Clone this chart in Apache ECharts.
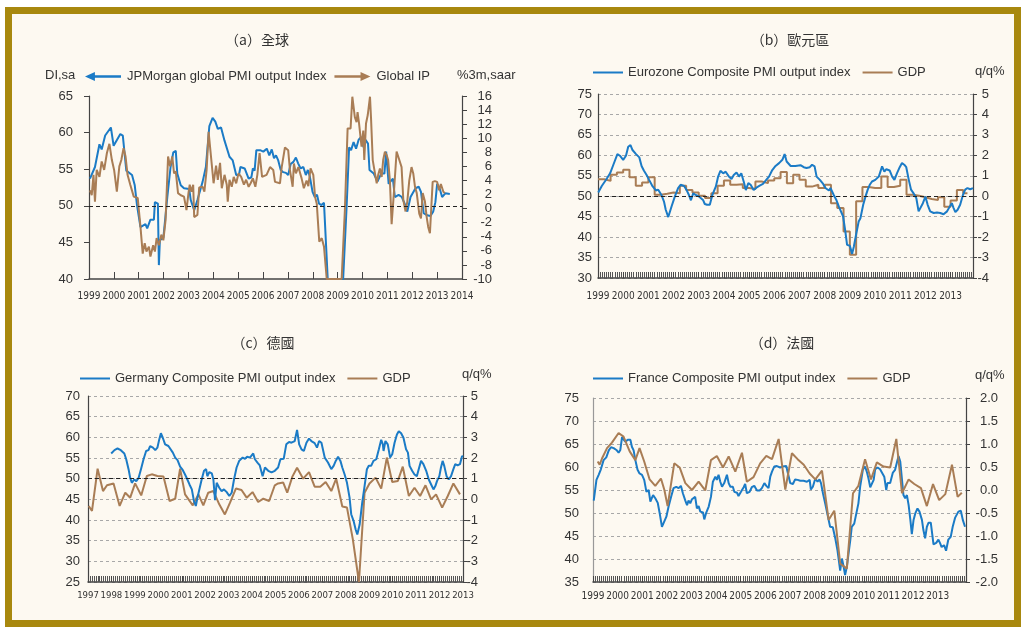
<!DOCTYPE html>
<html lang="zh-Hant">
<head>
    <meta charset="UTF-8">
    <title>PMI vs output</title>
    <script src="https://cdn.jsdelivr.net/npm/echarts@6/dist/echarts.min.js"></script>
    <style>
        body {
            margin: 0;
            padding: 0;
            background: #fff;
            overflow: hidden;
        }
        #frame {
            position: absolute;
            left: 5px;
            top: 7px;
            width: 1002px;
            height: 606px;
            border: 7px solid #a8880e;
            background: #fdf9f1;
        }
        #chart {
            position: absolute;
            left: 0;
            top: 0;
            width: 1021px;
            height: 627px;
        }
    </style>
</head>
<body>
<div id="frame"></div>
<div id="chart"></div>
</body>
<script>
    // (a) global: [year, value]
    const globalPmi = [[1999.04,53.7],[1999.24,55.3],[1999.42,58.4],[1999.51,57.7],[1999.65,59.6],[1999.88,60.7],[1999.99,58.2],[2000.26,59.8],[2000.36,59.6],[2000.5,54.8],[2000.73,54.2],[2000.84,52.8],[2000.93,50.1],[2001.07,47.1],[2001.27,47.5],[2001.34,46.9],[2001.47,48.1],[2001.61,48.1],[2001.65,50.5],[2001.77,50.3],[2001.81,41.9],[2001.85,45.3],[2001.99,45.6],[2002.15,51.2],[2002.28,55.3],[2002.39,57.3],[2002.49,57.5],[2002.55,54.4],[2002.69,52.8],[2002.82,52.4],[2003.03,52.3],[2003.09,50.8],[2003.23,49.4],[2003.36,50.8],[2003.57,53.3],[2003.7,55.3],[2003.84,60.9],[2003.97,62.0],[2004.08,61.5],[2004.18,60.5],[2004.31,60.7],[2004.45,58.9],[2004.51,58.7],[2004.65,56.7],[2004.78,56.2],[2004.92,54.2],[2005.03,54.2],[2005.09,55.3],[2005.26,55.1],[2005.42,53.7],[2005.53,53.9],[2005.59,55.1],[2005.66,54.8],[2005.73,57.6],[2005.88,57.6],[2006.01,57.4],[2006.15,57.8],[2006.25,56.9],[2006.35,57.7],[2006.44,56.5],[2006.52,56.9],[2006.61,56.2],[2006.71,54.9],[2006.81,54.6],[2006.92,54.5],[2007.01,54.2],[2007.11,55.7],[2007.22,56.0],[2007.32,56.6],[2007.41,55.8],[2007.51,55.1],[2007.62,55.3],[2007.72,54.2],[2007.8,54.9],[2007.88,54.0],[2007.99,51.9],[2008.08,51.2],[2008.17,51.5],[2008.25,50.3],[2008.35,50.1],[2008.45,50.4],[2008.6,40.0],[2009.22,40.0],[2009.36,49.9],[2009.46,58.0],[2009.54,57.6],[2009.64,58.7],[2009.74,57.8],[2009.84,59.0],[2009.94,59.4],[2010.04,58.0],[2010.12,59.0],[2010.22,58.5],[2010.28,54.9],[2010.45,54.4],[2010.6,53.3],[2010.75,54.4],[2010.88,54.4],[2010.95,57.4],[2011.02,57.4],[2011.05,53.0],[2011.22,53.7],[2011.3,51.2],[2011.45,51.5],[2011.58,51.2],[2011.72,50.1],[2011.8,49.2],[2011.93,51.2],[2012.13,52.4],[2012.26,52.6],[2012.35,51.9],[2012.46,49.0],[2012.6,48.7],[2012.73,48.6],[2012.84,49.2],[2012.93,50.5],[2013.0,53.0],[2013.1,52.4],[2013.2,51.2],[2013.33,51.7],[2013.4,51.5],[2013.51,51.6]];
    const globalIp = [[1999.04,2.6],[1999.11,1.9],[1999.18,4.8],[1999.24,1.0],[1999.31,5.5],[1999.42,4.5],[1999.51,6.7],[1999.61,5.5],[1999.72,7.9],[1999.82,9.2],[1999.92,6.9],[2000.01,5.5],[2000.12,2.4],[2000.22,6.0],[2000.3,6.9],[2000.39,8.6],[2000.47,7.4],[2000.55,4.8],[2000.66,3.4],[2000.8,1.7],[2000.96,1.5],[2001.07,-2.6],[2001.16,-6.4],[2001.24,-4.9],[2001.31,-6.1],[2001.41,-5.4],[2001.47,-6.8],[2001.58,-5.2],[2001.65,-6.1],[2001.72,-4.2],[2001.81,-5.2],[2001.91,-3.7],[2001.99,-4.5],[2002.08,-1.6],[2002.18,7.4],[2002.26,6.0],[2002.35,7.4],[2002.42,5.0],[2002.49,5.3],[2002.58,2.2],[2002.69,1.9],[2002.82,1.7],[2002.92,-0.2],[2003.0,2.2],[2003.05,3.4],[2003.12,2.4],[2003.19,3.4],[2003.23,-1.2],[2003.36,-0.9],[2003.43,3.0],[2003.57,3.1],[2003.64,2.4],[2003.73,5.5],[2003.81,10.9],[2004.01,3.6],[2004.11,6.1],[2004.18,4.1],[2004.27,6.5],[2004.34,2.9],[2004.45,4.8],[2004.54,3.4],[2004.58,1.0],[2004.65,4.1],[2004.74,3.1],[2004.82,4.5],[2004.92,3.6],[2005.01,5.0],[2005.12,4.5],[2005.23,3.4],[2005.32,4.1],[2005.42,3.1],[2005.5,3.6],[2005.59,4.3],[2005.69,3.1],[2005.77,4.8],[2005.86,7.9],[2005.96,4.5],[2006.01,4.3],[2006.14,4.8],[2006.28,5.9],[2006.41,5.5],[2006.48,3.8],[2006.68,3.6],[2006.75,5.9],[2006.88,8.7],[2007.01,8.3],[2007.08,5.5],[2007.19,3.1],[2007.24,6.4],[2007.32,5.0],[2007.42,5.9],[2007.55,4.3],[2007.64,2.9],[2007.75,4.0],[2007.82,3.2],[2007.91,5.7],[2008.02,4.8],[2008.09,1.7],[2008.16,0.7],[2008.26,-4.7],[2008.36,-4.2],[2008.45,-5.4],[2008.56,-10],[2009.16,-10],[2009.29,-0.2],[2009.4,11.4],[2009.52,11.4],[2009.59,15.9],[2009.69,13.0],[2009.76,12.3],[2009.8,13.7],[2009.86,12.1],[2009.96,8.8],[2010.03,11.1],[2010.07,6.9],[2010.14,12.1],[2010.21,13.3],[2010.3,15.9],[2010.34,13.0],[2010.41,6.9],[2010.5,5.0],[2010.57,3.6],[2010.63,4.8],[2010.7,5.7],[2010.77,4.5],[2010.83,6.9],[2010.9,8.1],[2010.97,7.6],[2011.03,6.9],[2011.1,4.0],[2011.17,-2.2],[2011.26,2.2],[2011.37,8.1],[2011.48,6.9],[2011.57,5.9],[2011.64,1.2],[2011.73,-0.4],[2011.8,1.0],[2011.88,4.0],[2011.97,5.9],[2012.04,5.0],[2012.11,3.1],[2012.18,2.2],[2012.28,-0.7],[2012.35,-1.4],[2012.42,2.2],[2012.51,1.0],[2012.58,-1.2],[2012.64,-2.6],[2012.71,-3.5],[2012.82,3.8],[2012.91,3.9],[2013.0,3.8],[2013.08,2.6],[2013.15,3.5],[2013.25,2.4],[2013.31,2.2]];

    // (b) eurozone
    const euroPmi = [[1999.01,50.9],[1999.15,52.5],[1999.34,54.2],[1999.48,55.6],[1999.61,57.7],[1999.77,60.3],[1999.87,59.9],[2000.0,58.9],[2000.11,59.9],[2000.2,62.1],[2000.29,62.5],[2000.37,61.3],[2000.51,60.3],[2000.64,59.5],[2000.73,57.4],[2000.82,56.3],[2000.93,55.2],[2001.03,54.0],[2001.17,52.4],[2001.3,51.4],[2001.39,51.6],[2001.52,50.3],[2001.62,48.7],[2001.69,46.7],[2001.79,44.9],[2001.92,47.5],[2002.05,49.9],[2002.18,52.0],[2002.28,52.8],[2002.42,52.5],[2002.51,51.6],[2002.61,50.3],[2002.69,49.0],[2002.78,50.7],[2002.88,50.3],[2003.02,49.9],[2003.17,49.1],[2003.24,48.1],[2003.33,47.9],[2003.44,47.9],[2003.54,50.3],[2003.68,52.4],[2003.77,54.8],[2003.86,56.2],[2003.97,55.6],[2004.07,56.0],[2004.2,54.8],[2004.3,54.2],[2004.39,55.2],[2004.5,55.8],[2004.6,54.8],[2004.69,55.6],[2004.79,53.5],[2004.87,51.5],[2004.97,53.2],[2005.06,52.8],[2005.18,51.5],[2005.29,52.1],[2005.42,52.6],[2005.55,53.0],[2005.68,54.0],[2005.79,54.8],[2005.92,56.4],[2006.05,57.4],[2006.19,58.1],[2006.32,58.9],[2006.41,60.3],[2006.49,58.5],[2006.65,57.4],[2006.84,57.4],[2007.04,57.6],[2007.17,57.1],[2007.28,56.9],[2007.41,57.1],[2007.5,57.7],[2007.6,57.3],[2007.68,54.8],[2007.81,54.0],[2007.94,53.0],[2008.03,52.0],[2008.1,52.4],[2008.17,51.4],[2008.23,52.0],[2008.36,50.3],[2008.47,49.0],[2008.56,47.5],[2008.63,47.9],[2008.73,45.1],[2008.83,41.0],[2008.89,38.1],[2009.0,37.9],[2009.09,35.9],[2009.16,37.7],[2009.26,41.0],[2009.35,43.8],[2009.42,44.6],[2009.53,47.9],[2009.62,49.9],[2009.71,51.6],[2009.79,52.8],[2009.88,53.6],[2010.01,54.0],[2010.15,54.8],[2010.28,57.3],[2010.37,56.0],[2010.45,56.6],[2010.58,56.3],[2010.68,54.8],[2010.77,54.0],[2010.87,55.6],[2010.98,57.1],[2011.07,58.1],[2011.16,57.7],[2011.24,57.1],[2011.34,54.0],[2011.43,51.6],[2011.53,50.7],[2011.64,49.5],[2011.73,46.3],[2011.8,46.5],[2011.9,48.3],[2012.0,49.9],[2012.09,47.9],[2012.19,46.3],[2012.33,45.9],[2012.46,46.0],[2012.59,45.9],[2012.72,45.6],[2012.86,46.3],[2012.99,47.7],[2013.05,48.3],[2013.12,47.1],[2013.19,46.1],[2013.28,46.7],[2013.38,47.9],[2013.49,50.3],[2013.58,51.6],[2013.67,52.0],[2013.78,51.7],[2013.89,52.0]];
    const euroGdp = [[1999.0,0.83],[1999.25,0.75],[1999.5,1.05],[1999.75,1.16],[2000.0,1.29],[2000.25,0.93],[2000.5,0.51],[2000.75,0.67],[2001.0,0.93],[2001.25,0.07],[2001.5,0.12],[2001.75,0.18],[2002.0,0.15],[2002.25,0.51],[2002.5,0.31],[2002.75,0.18],[2003.0,0.02],[2003.25,-0.09],[2003.5,0.15],[2003.75,0.51],[2004.0,0.77],[2004.25,0.56],[2004.5,0.59],[2004.75,0.40],[2005.0,0.35],[2005.25,0.72],[2005.5,0.64],[2005.75,0.77],[2006.0,0.88],[2006.25,1.18],[2006.5,0.64],[2006.75,1.05],[2007.0,0.80],[2007.25,0.47],[2007.5,0.56],[2007.75,0.40],[2008.0,0.56],[2008.25,-0.34],[2008.5,-0.58],[2008.75,-1.72],[2009.0,-2.86],[2009.25,-0.25],[2009.5,0.45],[2009.75,0.40],[2010.0,0.40],[2010.25,0.97],[2010.5,0.45],[2010.75,0.51],[2011.0,0.80],[2011.25,0.07],[2011.5,0.02],[2011.75,-0.05],[2012.0,-0.14],[2012.25,-0.18],[2012.5,-0.05],[2012.75,-0.51],[2013.0,-0.21],[2013.25,0.31],[2013.5,0.15],[2013.67,0.15]];

    // (c) germany
    const gerPmi = [[1997.99,56.1],[1998.13,56.9],[1998.26,57.3],[1998.4,56.9],[1998.55,56.1],[1998.63,54.7],[1998.73,52.3],[1998.8,50.2],[1998.87,49.0],[1998.97,49.8],[1999.06,49.4],[1999.16,50.2],[1999.26,52.3],[1999.37,54.7],[1999.48,56.7],[1999.58,56.9],[1999.65,57.9],[1999.77,57.5],[1999.87,56.9],[1999.96,57.5],[2000.04,59.5],[2000.11,61.0],[2000.19,59.9],[2000.29,58.3],[2000.43,57.9],[2000.5,58.1],[2000.62,56.3],[2000.72,55.1],[2000.82,54.5],[2000.93,52.9],[2001.04,52.1],[2001.14,51.0],[2001.24,49.8],[2001.33,48.6],[2001.43,47.4],[2001.52,44.6],[2001.6,43.4],[2001.67,45.4],[2001.75,47.4],[2001.85,49.8],[2001.95,51.9],[2002.04,52.3],[2002.09,50.6],[2002.18,51.6],[2002.28,51.3],[2002.35,49.8],[2002.42,44.8],[2002.49,49.0],[2002.6,47.8],[2002.7,47.0],[2002.8,47.4],[2002.91,46.8],[2003.03,45.8],[2003.13,46.6],[2003.23,49.8],[2003.34,52.7],[2003.45,54.3],[2003.6,55.1],[2003.7,54.8],[2003.79,55.3],[2003.91,55.1],[2003.98,55.1],[2004.05,56.1],[2004.12,54.7],[2004.23,53.9],[2004.33,53.2],[2004.45,50.6],[2004.55,52.7],[2004.69,51.9],[2004.83,51.5],[2004.97,51.9],[2005.11,52.7],[2005.21,54.7],[2005.35,54.8],[2005.46,58.3],[2005.58,58.9],[2005.68,58.7],[2005.82,59.1],[2005.92,61.8],[2006.01,58.3],[2006.11,57.1],[2006.21,56.7],[2006.32,58.7],[2006.43,59.7],[2006.53,59.1],[2006.67,58.6],[2006.77,57.5],[2006.86,59.1],[2006.96,58.7],[2007.03,59.1],[2007.1,55.1],[2007.24,53.9],[2007.38,52.3],[2007.48,53.1],[2007.57,54.3],[2007.67,55.3],[2007.77,54.3],[2007.85,52.7],[2007.95,51.0],[2008.05,49.0],[2008.16,45.4],[2008.23,41.4],[2008.33,39.8],[2008.42,37.7],[2008.49,36.5],[2008.59,38.9],[2008.7,44.2],[2008.8,48.2],[2008.9,52.3],[2008.98,53.1],[2009.08,53.1],[2009.18,54.3],[2009.3,54.7],[2009.41,57.1],[2009.51,59.4],[2009.58,58.3],[2009.61,56.7],[2009.69,59.1],[2009.79,58.3],[2009.89,55.1],[2009.98,55.9],[2010.08,58.7],[2010.18,60.7],[2010.26,61.5],[2010.36,61.0],[2010.46,59.9],[2010.57,57.1],[2010.65,56.3],[2010.72,53.1],[2010.83,51.9],[2010.93,51.0],[2011.03,50.6],[2011.11,52.3],[2011.21,54.3],[2011.31,53.5],[2011.43,51.9],[2011.54,49.8],[2011.64,48.6],[2011.74,47.4],[2011.82,48.2],[2011.89,49.4],[2011.99,50.6],[2012.06,52.7],[2012.13,54.3],[2012.2,53.1],[2012.3,50.6],[2012.39,49.8],[2012.49,50.6],[2012.59,52.3],[2012.67,53.5],[2012.77,53.2],[2012.87,53.5],[2012.96,55.5],[2013.0,55.3]];
    const gerGdp = [[1997.03,-0.32],[1997.17,-0.56],[1997.41,1.48],[1997.64,0.40],[1997.81,0.68],[1998.09,0.77],[1998.35,-0.32],[1998.59,0.32],[1998.8,0.08],[1999.01,0.77],[1999.27,0.19],[1999.51,1.13],[1999.72,1.21],[1999.96,1.13],[2000.22,1.10],[2000.48,-0.08],[2000.72,0.03],[2000.93,1.48],[2001.14,0.24],[2001.47,-0.29],[2001.71,0.24],[2001.92,-0.29],[2002.13,0.32],[2002.35,0.40],[2002.6,-0.24],[2002.84,-0.73],[2003.06,-0.16],[2003.31,0.52],[2003.55,0.45],[2003.77,0.08],[2004.02,0.35],[2004.26,-0.13],[2004.48,0.03],[2004.73,-0.08],[2004.97,0.68],[2005.11,0.77],[2005.33,0.81],[2005.5,0.32],[2005.72,1.10],[2005.92,1.53],[2006.18,1.00],[2006.43,1.32],[2006.67,0.61],[2006.91,0.61],[2007.14,0.84],[2007.38,0.40],[2007.59,1.00],[2007.85,-0.35],[2008.05,-0.40],[2008.3,-1.94],[2008.56,-4.0],[2008.8,0.32],[2009.01,0.77],[2009.27,1.05],[2009.51,0.52],[2009.75,2.02],[2009.98,0.84],[2010.22,0.89],[2010.43,1.58],[2010.69,0.16],[2010.93,0.56],[2011.17,0.16],[2011.4,0.68],[2011.64,0.00],[2011.85,0.24],[2012.11,-0.40],[2012.35,0.16],[2012.59,0.77],[2012.87,0.24]];

    // (d) france
    const frPmi = [[1999.03,52.7],[1999.14,57.2],[1999.23,58.3],[1999.32,59.5],[1999.43,61.5],[1999.54,62.1],[1999.64,63.6],[1999.73,64.3],[1999.84,64.1],[1999.95,63.7],[2000.04,63.1],[2000.11,63.7],[2000.18,66.5],[2000.24,66.0],[2000.31,65.5],[2000.41,65.9],[2000.52,65.9],[2000.58,64.4],[2000.65,63.6],[2000.72,61.5],[2000.81,59.4],[2000.89,58.6],[2000.99,58.3],[2001.08,57.2],[2001.17,54.6],[2001.26,55.0],[2001.33,52.5],[2001.44,53.9],[2001.53,53.2],[2001.63,52.2],[2001.71,49.9],[2001.8,47.0],[2001.87,46.6],[2001.98,49.2],[2002.07,51.4],[2002.17,53.5],[2002.27,55.4],[2002.38,55.7],[2002.48,55.4],[2002.57,55.9],[2002.65,54.3],[2002.75,52.7],[2002.82,51.7],[2002.88,52.7],[2002.95,52.1],[2003.02,53.0],[2003.15,53.5],[2003.22,51.0],[2003.29,51.5],[2003.36,50.3],[2003.47,50.1],[2003.52,48.6],[2003.6,50.1],[2003.7,51.4],[2003.79,53.5],[2003.87,56.8],[2003.97,57.9],[2004.03,57.2],[2004.1,58.3],[2004.17,56.8],[2004.24,55.7],[2004.33,56.5],[2004.44,58.3],[2004.51,56.5],[2004.58,55.7],[2004.68,55.7],[2004.74,54.6],[2004.85,54.4],[2004.91,53.7],[2005.01,54.6],[2005.12,55.6],[2005.18,56.3],[2005.25,54.3],[2005.36,54.6],[2005.45,55.6],[2005.55,55.9],[2005.66,54.9],[2005.77,54.9],[2005.86,55.4],[2005.96,56.5],[2006.04,55.9],[2006.13,55.4],[2006.2,57.9],[2006.27,59.0],[2006.36,60.1],[2006.47,60.2],[2006.6,59.9],[2006.71,60.1],[2006.85,60.2],[2006.9,59.0],[2007.01,56.5],[2007.12,56.3],[2007.21,57.3],[2007.31,57.2],[2007.42,57.0],[2007.55,57.0],[2007.69,56.8],[2007.8,57.2],[2007.85,55.1],[2007.93,55.7],[2008.03,57.5],[2008.12,56.8],[2008.2,57.3],[2008.26,56.5],[2008.34,54.3],[2008.43,52.1],[2008.5,50.3],[2008.57,48.5],[2008.63,47.0],[2008.74,46.9],[2008.84,44.5],[2008.93,41.9],[2009.04,37.5],[2009.11,40.1],[2009.18,38.3],[2009.24,36.5],[2009.31,38.3],[2009.38,41.2],[2009.45,44.1],[2009.51,47.0],[2009.61,47.7],[2009.69,47.4],[2009.78,52.1],[2009.85,55.7],[2009.96,59.4],[2010.05,60.1],[2010.12,59.0],[2010.19,57.5],[2010.26,55.6],[2010.33,55.6],[2010.4,57.2],[2010.46,59.5],[2010.56,59.9],[2010.66,59.5],[2010.73,59.7],[2010.83,57.9],[2010.91,55.0],[2010.96,56.5],[2011.07,56.5],[2011.18,58.8],[2011.27,59.4],[2011.34,59.5],[2011.41,62.4],[2011.48,61.2],[2011.55,57.2],[2011.61,53.9],[2011.68,53.2],[2011.75,53.9],[2011.82,51.7],[2011.89,48.5],[2011.95,45.4],[2012.02,48.5],[2012.09,49.9],[2012.18,51.0],[2012.26,50.3],[2012.36,48.5],[2012.42,46.3],[2012.49,44.5],[2012.56,47.0],[2012.63,47.9],[2012.72,47.9],[2012.83,43.2],[2012.94,43.5],[2013.03,44.2],[2013.1,43.4],[2013.16,42.6],[2013.26,43.0],[2013.34,41.8],[2013.43,44.2],[2013.53,44.8],[2013.61,47.0],[2013.71,49.0],[2013.77,48.8],[2013.84,50.3],[2013.94,50.5],[2014.02,48.5],[2014.11,47.0]];
    const frGdp = [[1999.19,0.62],[1999.27,0.55],[1999.37,0.69],[1999.57,0.91],[1999.77,1.03],[2000.04,1.24],[2000.24,1.16],[2000.49,0.84],[2000.72,0.65],[2000.89,0.91],[2001.08,0.62],[2001.3,0.23],[2001.53,0.09],[2001.76,0.25],[2001.9,0.0],[2002.03,-0.35],[2002.3,0.58],[2002.52,0.49],[2002.75,0.15],[2003.02,0.0],[2003.29,0.18],[2003.56,-0.01],[2003.79,0.65],[2004.03,0.74],[2004.28,0.49],[2004.51,0.73],[2004.78,0.40],[2005.05,0.81],[2005.25,0.18],[2005.52,0.28],[2005.79,0.58],[2006.04,0.74],[2006.27,0.67],[2006.54,1.11],[2006.81,0.01],[2007.08,0.80],[2007.31,0.67],[2007.56,0.55],[2007.8,0.36],[2008.03,0.23],[2008.3,0.42],[2008.57,-0.65],[2008.8,-0.45],[2009.04,-1.60],[2009.31,-1.71],[2009.56,-0.07],[2009.78,0.09],[2010.05,0.67],[2010.29,0.23],[2010.53,0.60],[2010.8,0.51],[2011.07,0.49],[2011.32,1.11],[2011.55,-0.07],[2011.82,0.23],[2012.05,0.13],[2012.32,0.04],[2012.56,-0.35],[2012.81,0.13],[2013.06,-0.22],[2013.31,-0.09],[2013.58,0.55],[2013.81,-0.15],[2013.98,-0.06]];

    const panelTitles = ['（a）全球', '（b）歐元區', '（c）德國', '（d）法國'];

    const FONT = '"Liberation Sans", Arial, sans-serif';
    const NARROW = '"Liberation Sans Narrow", "DejaVu Sans Condensed", sans-serif';
    const CJK = '"Noto Sans CJK TC", "Noto Sans CJK SC", sans-serif';
    const BLUE = '#1b7bc6';
    const BROWN = '#a97d55';
    const TXT = '#333';

    // legend arrows for panel (a)
    const arrowL = 'path://M0,5L11,0L11,3.6L40,3.6L40,6.4L11,6.4L11,10Z';
    const arrowR = 'path://M40,5L29,0L29,3.6L0,3.6L0,6.4L29,6.4L29,10Z';

    function xAxis(gi, min, max, lastLabel, margin, monthly, fs) {
        return {
            type: 'value', gridIndex: gi, min: min, max: max, interval: 1,
            axisLine: { onZero: false, lineStyle: { color: '#444', width: 1.5 } },
            axisTick: { inside: true, length: monthly ? 6 : 7, lineStyle: { color: '#444' } },
            minorTick: { show: monthly, splitNumber: 12, length: 6, lineStyle: { color: '#555' } },
            splitLine: { show: false },
            axisLabel: {
                margin: margin, color: TXT, fontFamily: NARROW, fontSize: fs,
                showMinLabel: true, showMaxLabel: true, hideOverlap: false,
                formatter: function (v) {
                    return (Math.abs(v - Math.round(v)) < 1e-6 && v <= lastLabel) ? String(Math.round(v)) : '';
                }
            }
        };
    }

    function yAxis(gi, pos, min, max, interval, o) {
        return {
            type: 'value', gridIndex: gi, position: pos, min: min, max: max, interval: interval,
            axisLine: { show: true, onZero: false, lineStyle: { color: o.lineColor || '#444', width: 1.2 } },
            axisTick: { show: o.tick > 0, length: o.tick || 0, lineStyle: { color: '#444' } },
            splitLine: { show: !!o.grid, lineStyle: { color: '#a8a8a8', type: [3, 3], width: 1 } },
            axisLabel: {
                margin: o.margin, color: TXT, fontFamily: FONT, fontSize: 13,
                align: pos === 'right' ? 'right' : undefined,
                formatter: o.fmt
            }
        };
    }

    function midLine(v) {
        return {
            silent: true, symbol: 'none', label: { show: false }, animation: false,
            lineStyle: { color: '#222', type: [4, 3], width: 1 },
            data: [{ yAxis: v }]
        };
    }

    function line(name, data, color, xi, yi, extra) {
        return Object.assign({
            name: name, type: 'line', data: data, xAxisIndex: xi, yAxisIndex: yi,
            showSymbol: false, symbol: 'none', color: color,
            lineStyle: { color: color, width: 2 }
        }, extra || {});
    }

    function label(text, x, y, align, font) {
        return {
            type: 'text', x: x, y: y, silent: true,
            style: {
                text: text, fill: TXT, font: font,
                align: align, textAlign: align, verticalAlign: 'middle', textVerticalAlign: 'middle'
            }
        };
    }

    const legendText = { color: TXT, fontFamily: FONT, fontSize: 13 };

    const option = {
        animation: false,
        grid: [
            { left: 89, top: 96, width: 373, height: 183 },
            { left: 598, top: 94, width: 375, height: 184 },
            { left: 88, top: 396, width: 375, height: 186 },
            { left: 593, top: 398, width: 373, height: 184 }
        ],
        xAxis: [
            xAxis(0, 1999, 2014, 2014, 12, false, 10),
            xAxis(1, 1999, 2013.89, 2013, 13, true, 10),
            xAxis(2, 1997, 2013, 2013, 9, true, 9.5),
            xAxis(3, 1999, 2014.15, 2013, 9, true, 10)
        ],
        yAxis: [
            yAxis(0, 'left', 40, 65, 5, { tick: 5, margin: 16 }),
            yAxis(0, 'right', -10, 16, 2, { tick: 5, margin: 30 }),
            yAxis(1, 'left', 30, 75, 5, { grid: true, margin: 6 }),
            yAxis(1, 'right', -4, 5, 1, { tick: 4, margin: 16 }),
            yAxis(2, 'left', 25, 70, 5, { grid: true, margin: 8 }),
            yAxis(2, 'right', -4, 5, 1, { tick: 4, margin: 15 }),
            yAxis(3, 'left', 35, 75, 5, { grid: true, margin: 14, lineColor: '#999' }),
            yAxis(3, 'right', -2, 2, 0.5, { tick: 4, margin: 32, fmt: function (v) { return v.toFixed(1); } })
        ],
        legend: [
            {
                left: 85, top: 70, padding: 0, itemWidth: 38, itemHeight: 9, itemGap: 8,
                textStyle: legendText, itemStyle: { borderWidth: 0 }, selectedMode: false,
                data: [{ name: 'JPMorgan global PMI output Index', icon: arrowL }, { name: 'Global IP', icon: arrowR }]
            },
            {
                left: 593, top: 66, padding: 0, itemWidth: 30, itemHeight: 2, itemGap: 12,
                textStyle: legendText, itemStyle: { borderWidth: 0 }, selectedMode: false,
                data: [{ name: 'Eurozone Composite PMI output index', icon: 'rect' }, { name: 'GDP', icon: 'rect' }]
            },
            {
                left: 80, top: 372, padding: 0, itemWidth: 30, itemHeight: 2, itemGap: 12,
                textStyle: legendText, itemStyle: { borderWidth: 0 }, selectedMode: false,
                data: [{ name: 'Germany Composite PMI output index', icon: 'rect' }, { name: 'GDP', icon: 'rect' }]
            },
            {
                left: 593, top: 372, padding: 0, itemWidth: 30, itemHeight: 2, itemGap: 12,
                textStyle: legendText, itemStyle: { borderWidth: 0 }, selectedMode: false,
                data: [{ name: 'France Composite PMI output index', icon: 'rect' }, { name: 'GDP', icon: 'rect' }]
            }
        ],
        graphic: [
            label(panelTitles[0], 257, 40, 'center', '14px ' + CJK),
            label(panelTitles[1], 790, 40, 'center', '14px ' + CJK),
            label(panelTitles[2], 263, 343, 'center', '14px ' + CJK),
            label(panelTitles[3], 782, 343, 'center', '14px ' + CJK),
            label('DI,sa', 45, 75, 'left', '13px ' + FONT),
            label('%3m,saar', 457, 75, 'left', '13px ' + FONT),
            label('q/q%', 975, 71, 'left', '13px ' + FONT),
            label('q/q%', 462, 374, 'left', '13px ' + FONT),
            label('q/q%', 975, 375, 'left', '13px ' + FONT)
        ],
        series: [
            line('JPMorgan global PMI output Index', globalPmi, BLUE, 0, 0, { markLine: midLine(50) }),
            line('Global IP', globalIp, BROWN, 0, 1),
            line('GDP', euroGdp, BROWN, 1, 3, { step: 'end' }),
            line('Eurozone Composite PMI output index', euroPmi, BLUE, 1, 2, { markLine: midLine(50) }),
            line('GDP', gerGdp, BROWN, 2, 5),
            line('Germany Composite PMI output index', gerPmi, BLUE, 2, 4, { markLine: midLine(50) }),
            line('France Composite PMI output index', frPmi, BLUE, 3, 6),
            line('GDP', frGdp, BROWN, 3, 7)
        ]
    };

    window.onload = function () {
        const chart = echarts.init(document.getElementById('chart'));
        chart.setOption(option);
    };
</script>
</html>
